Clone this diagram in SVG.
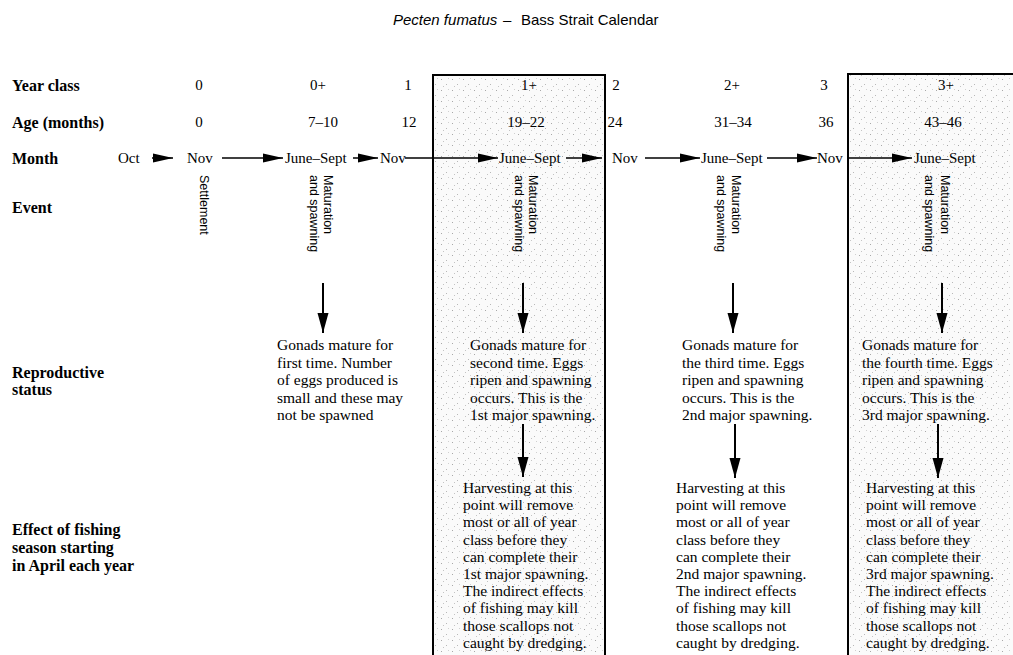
<svg xmlns="http://www.w3.org/2000/svg" width="1013" height="655" viewBox="0 0 1013 655">
<style>
.lab{font-family:"Liberation Serif","Times New Roman",serif;font-weight:bold;font-size:16px;fill:#000}
.val{font-family:"Liberation Serif","Times New Roman",serif;font-size:15px;fill:#000}
.mid{text-anchor:middle}
.par{font-family:"Liberation Serif","Times New Roman",serif;font-size:15.5px;fill:#000}
.ev{font-family:"Liberation Sans",Arial,sans-serif;font-size:12.5px;fill:#000}
.ttl{font-family:"Liberation Sans",Arial,sans-serif;font-size:15px;fill:#000}
.box{fill:url(#stip);stroke:#000;stroke-width:2}
.h{stroke:#000;stroke-width:1.5;fill:none;marker-end:url(#ah)}
.v{stroke:#000;stroke-width:2;fill:none;marker-end:url(#av)}
</style>
<defs>
<pattern id="stip" width="11" height="11" patternUnits="userSpaceOnUse">
<rect width="11" height="11" fill="#fafafa"/>
<rect x="1" y="2" width="1" height="1" fill="#a8a8a8"/>
<rect x="6" y="7" width="1" height="1" fill="#b8b8b8"/>
<rect x="8" y="1" width="1" height="1" fill="#d0d0d0"/>
<rect x="3" y="9" width="1" height="1" fill="#c4c4c4"/>
</pattern>
<marker id="ah" markerUnits="userSpaceOnUse" markerWidth="20" markerHeight="10" refX="20" refY="5" orient="auto">
<path d="M0,0.5 L20,5 L0,9.5 Z" fill="#000"/>
</marker>
<marker id="av" markerUnits="userSpaceOnUse" markerWidth="20" markerHeight="12" refX="20" refY="6" orient="auto">
<path d="M0,0.5 L20,6 L0,11.5 Z" fill="#000"/>
</marker>
</defs>
<rect width="1013" height="655" fill="#fff"/>

<g id="title">
<text class="ttl" x="393" y="25" font-style="italic">Pecten fumatus</text>
<text class="ttl" x="503" y="25">–</text>
<text class="ttl" x="521" y="25">Bass Strait Calendar</text>
</g>

<g id="box-1plus"><rect class="box" x="433" y="75" width="172" height="600"/></g>
<g id="box-3plus"><rect class="box" x="848" y="74" width="200" height="600"/></g>

<g id="row-labels">
<text class="lab" x="12" y="91">Year class</text>
<text class="lab" x="12" y="128">Age (months)</text>
<text class="lab" x="12" y="164">Month</text>
<text class="lab" x="12" y="213">Event</text>
<text class="lab" x="12" y="378">Reproductive<tspan x="12" dy="17">status</tspan></text>
<text class="lab" x="12" y="535">Effect of fishing<tspan x="12" dy="18">season starting</tspan><tspan x="12" dy="18">in April each year</tspan></text>
</g>

<g id="year-class">
<text class="val mid" x="199" y="90">0</text>
<text class="val mid" x="318" y="90">0+</text>
<text class="val mid" x="408" y="90">1</text>
<text class="val mid" x="529" y="90">1+</text>
<text class="val mid" x="616" y="90">2</text>
<text class="val mid" x="732" y="90">2+</text>
<text class="val mid" x="824" y="90">3</text>
<text class="val mid" x="946" y="90">3+</text>
</g>

<g id="age-months">
<text class="val mid" x="199" y="127">0</text>
<text class="val mid" x="323" y="127">7–10</text>
<text class="val mid" x="409" y="127">12</text>
<text class="val mid" x="526" y="127">19–22</text>
<text class="val mid" x="615" y="127">24</text>
<text class="val mid" x="733" y="127">31–34</text>
<text class="val mid" x="826" y="127">36</text>
<text class="val mid" x="943" y="127">43–46</text>
</g>

<g id="months">
<text class="val" x="118" y="163">Oct</text>
<text class="val" x="187" y="163">Nov</text>
<text class="val" x="285" y="163">June–Sept</text>
<text class="val" x="380" y="163">Nov</text>
<text class="val" x="499" y="163">June–Sept</text>
<text class="val" x="612" y="163">Nov</text>
<text class="val" x="701" y="163">June–Sept</text>
<text class="val" x="817" y="163">Nov</text>
<text class="val" x="914" y="163">June–Sept</text>
</g>

<g id="events">
<text class="ev" transform="translate(200,175) rotate(90)">Settlement</text>
<text class="ev" transform="translate(324,175) rotate(90)">Maturation</text>
<text class="ev" transform="translate(310,175) rotate(90)">and spawning</text>
<text class="ev" transform="translate(529,175) rotate(90)">Maturation</text>
<text class="ev" transform="translate(515,175) rotate(90)">and spawning</text>
<text class="ev" transform="translate(732,175) rotate(90)">Maturation</text>
<text class="ev" transform="translate(717,175) rotate(90)">and spawning</text>
<text class="ev" transform="translate(941,175) rotate(90)">Maturation</text>
<text class="ev" transform="translate(925,175) rotate(90)">and spawning</text>
</g>

<g id="status-0plus"><text class="par" x="277" y="350">Gonads mature for<tspan x="277" dy="17.5">first time. Number</tspan><tspan x="277" dy="17.5">of eggs produced is</tspan><tspan x="277" dy="17.5">small and these may</tspan><tspan x="277" dy="17.5">not be spawned</tspan></text></g>
<g id="status-1plus"><text class="par" x="470" y="350">Gonads mature for<tspan x="470" dy="17.5">second time. Eggs</tspan><tspan x="470" dy="17.5">ripen and spawning</tspan><tspan x="470" dy="17.5">occurs. This is the</tspan><tspan x="470" dy="17.5">1st major spawning.</tspan></text></g>
<g id="status-2plus"><text class="par" x="682" y="350">Gonads mature for<tspan x="682" dy="17.5">the third time. Eggs</tspan><tspan x="682" dy="17.5">ripen and spawning</tspan><tspan x="682" dy="17.5">occurs. This is the</tspan><tspan x="682" dy="17.5">2nd major spawning.</tspan></text></g>
<g id="status-3plus"><text class="par" x="862" y="350">Gonads mature for<tspan x="862" dy="17.5">the fourth time. Eggs</tspan><tspan x="862" dy="17.5">ripen and spawning</tspan><tspan x="862" dy="17.5">occurs. This is the</tspan><tspan x="862" dy="17.5">3rd major spawning.</tspan></text></g>

<g id="effect-1plus"><text class="par" x="463" y="493">Harvesting at this<tspan x="463" dy="17.2">point will remove</tspan><tspan x="463" dy="17.2">most or all of year</tspan><tspan x="463" dy="17.2">class before they</tspan><tspan x="463" dy="17.2">can complete their</tspan><tspan x="463" dy="17.2">1st major spawning.</tspan><tspan x="463" dy="17.2">The indirect effects</tspan><tspan x="463" dy="17.2">of fishing may kill</tspan><tspan x="463" dy="17.2">those scallops not</tspan><tspan x="463" dy="17.2">caught by dredging.</tspan></text></g>
<g id="effect-2plus"><text class="par" x="676" y="493">Harvesting at this<tspan x="676" dy="17.2">point will remove</tspan><tspan x="676" dy="17.2">most or all of year</tspan><tspan x="676" dy="17.2">class before they</tspan><tspan x="676" dy="17.2">can complete their</tspan><tspan x="676" dy="17.2">2nd major spawning.</tspan><tspan x="676" dy="17.2">The indirect effects</tspan><tspan x="676" dy="17.2">of fishing may kill</tspan><tspan x="676" dy="17.2">those scallops not</tspan><tspan x="676" dy="17.2">caught by dredging.</tspan></text></g>
<g id="effect-3plus"><text class="par" x="866" y="493">Harvesting at this<tspan x="866" dy="17.2">point will remove</tspan><tspan x="866" dy="17.2">most or all of year</tspan><tspan x="866" dy="17.2">class before they</tspan><tspan x="866" dy="17.2">can complete their</tspan><tspan x="866" dy="17.2">3rd major spawning.</tspan><tspan x="866" dy="17.2">The indirect effects</tspan><tspan x="866" dy="17.2">of fishing may kill</tspan><tspan x="866" dy="17.2">those scallops not</tspan><tspan x="866" dy="17.2">caught by dredging.</tspan></text></g>

<g id="connectors">
<line class="h" x1="152" y1="158" x2="173" y2="158"/>
<line class="h" x1="222" y1="158" x2="283" y2="158"/>
<line class="h" x1="353" y1="158" x2="378" y2="158"/>
<line class="h" x1="405" y1="158" x2="498" y2="158"/>
<line class="h" x1="566" y1="158" x2="602" y2="158"/>
<line class="h" x1="645" y1="158" x2="700" y2="158"/>
<line class="h" x1="767" y1="158" x2="817" y2="158"/>
<line class="h" x1="849" y1="158" x2="912" y2="158"/>
<line class="v" x1="323" y1="283" x2="323" y2="333"/>
<line class="v" x1="523" y1="283" x2="523" y2="333"/>
<line class="v" x1="733" y1="283" x2="733" y2="333"/>
<line class="v" x1="942" y1="283" x2="942" y2="333"/>
<line class="v" x1="523" y1="424" x2="523" y2="477"/>
<line class="v" x1="735" y1="424" x2="735" y2="478"/>
<line class="v" x1="938" y1="424" x2="938" y2="478"/>
</g>
</svg>
